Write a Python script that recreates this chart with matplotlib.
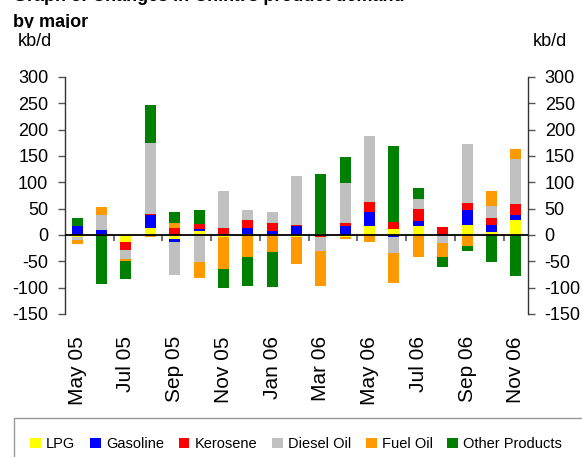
import numpy as np
import matplotlib
matplotlib.use("Agg")
import matplotlib.pyplot as plt
from matplotlib.patches import Patch, Rectangle

plt.rcParams['font.family'] = ['Liberation Sans', 'DejaVu Sans']

months = ["May 05", "Jun 05", "Jul 05", "Aug 05", "Sep 05", "Oct 05", "Nov 05",
          "Dec 05", "Jan 06", "Feb 06", "Mar 06", "Apr 06", "May 06", "Jun 06",
          "Jul 06", "Aug 06", "Sep 06", "Oct 06", "Nov 06"]

lpg      = [-3, 2, -14, 13, -8, 8, -4, 2, 0, -4, 2, -4, 17, 11, 17, 0, 19, 6, 28]
gasoline = [17, 8, 0, 25, -6, 4, 2, 12, 8, 17, 0, 17, 27, -4, 10, 2, 28, 13, 10]
kerosene = [1, 0, -15, 2, 13, 8, 11, 14, 15, 2, -4, 6, 19, 14, 23, 13, 13, 13, 21]
diesel   = [-6, 28, -17, 134, -61, -51, 70, 19, 21, 93, -27, 76, 125, -30, 19, -15, 112, 23, 85]
fuel_oil = [-9, 15, -4, -4, 10, -30, -61, -42, -32, -52, -66, -4, -13, -57, -42, -27, -21, 28, 19]
other    = [14, -93, -34, 72, 21, 28, -36, -55, -66, 0, 114, 49, 0, 144, 21, -19, -10, -51, -78]

series_names = ["LPG", "Gasoline", "Kerosene", "Diesel Oil", "Fuel Oil", "Other Products"]
series_vals = [lpg, gasoline, kerosene, diesel, fuel_oil, other]
colors = ["#FFFF00", "#0000FF", "#FF0000", "#C0C0C0", "#FF9900", "#008000"]

yticks = [-150, -100, -50, 0, 50, 100, 150, 200, 250, 300]

W, H = 582, 457
fig = plt.figure(figsize=(W / 100, H / 100), dpi=100)
ax = fig.add_axes([65 / W, 1 - 314 / H, (528 - 65) / W, (314 - 77) / H])

x = np.arange(len(months))
pos_base = np.zeros(len(months))
neg_base = np.zeros(len(months))
for name, vals, c in zip(series_names, series_vals, colors):
    v = np.array(vals, dtype=float)
    p = np.where(v > 0, v, 0)
    n = np.where(v < 0, v, 0)
    ax.bar(x, p, 0.45, bottom=pos_base, color=c, linewidth=0, zorder=2)
    ax.bar(x, n, 0.45, bottom=neg_base, color=c, linewidth=0, zorder=2)
    pos_base += p
    neg_base += n

ax.set_xlim(-0.5, len(months) - 0.5)
ax.set_ylim(-150, 300)
ax.set_yticks(yticks)
ax.set_yticklabels([str(t) for t in yticks])

ax.axhline(0, color="black", lw=1.3, zorder=3)
bounds = np.arange(1.5, len(months) - 1, 2)
ax.vlines(bounds, -11, 0, color="#555555", lw=1.2, zorder=1)

ax.set_xticks(x[::2])
ax.set_xticklabels(months[::2], rotation=90, fontsize=15)
ax.tick_params(axis='x', length=0, pad=16)

for s in ["top", "bottom"]:
    ax.spines[s].set_visible(False)
for s in ["left", "right"]:
    ax.spines[s].set_color("#333333")
    ax.spines[s].set_linewidth(1.0)
ax.tick_params(axis='y', left=True, right=True, labelleft=True, labelright=True,
               direction='out', length=5, width=1.0, color="#555555",
               labelsize=13, pad=7)

fig.text(35 / W, 1 - 42 / H, "kb/d", fontsize=13, ha="center", va="center")
fig.text(550 / W, 1 - 42 / H, "kb/d", fontsize=13, ha="center", va="center")

# title (cut off at the top of the picture in the reference)
fig.text(13 / W, 1 - 1 / H, "Graph 8: Changes in China's product demand",
         fontsize=13, fontweight="bold", ha="left", va="baseline")
fig.text(13 / W, 1 - 27 / H, "by major", fontsize=13,
         fontweight="bold", ha="left", va="baseline")
fig.patches.append(Rectangle((0, 1 - 33 / H), 100 / W, 5 / H, transform=fig.transFigure,
                             facecolor="white", edgecolor="none", zorder=5))

# legend box
fig.patches.append(Rectangle((14 / W, -0.05), 1.0, 0.05 + 1 - 418 / H,
                             transform=fig.transFigure, fill=False,
                             edgecolor="#999999", lw=1.0))
handles = [Patch(facecolor=c, edgecolor='none', label=n) for n, c in zip(series_names, colors)]
fig.legend(handles=handles, loc="center left", bbox_to_anchor=(30 / W, 1 - 444 / H),
           ncol=6, frameon=False, fontsize=10.5, handlelength=0.75, handleheight=0.75,
           handletextpad=0.35, columnspacing=1.0, borderaxespad=0, borderpad=0)

fig.savefig("out.png", dpi=100)
